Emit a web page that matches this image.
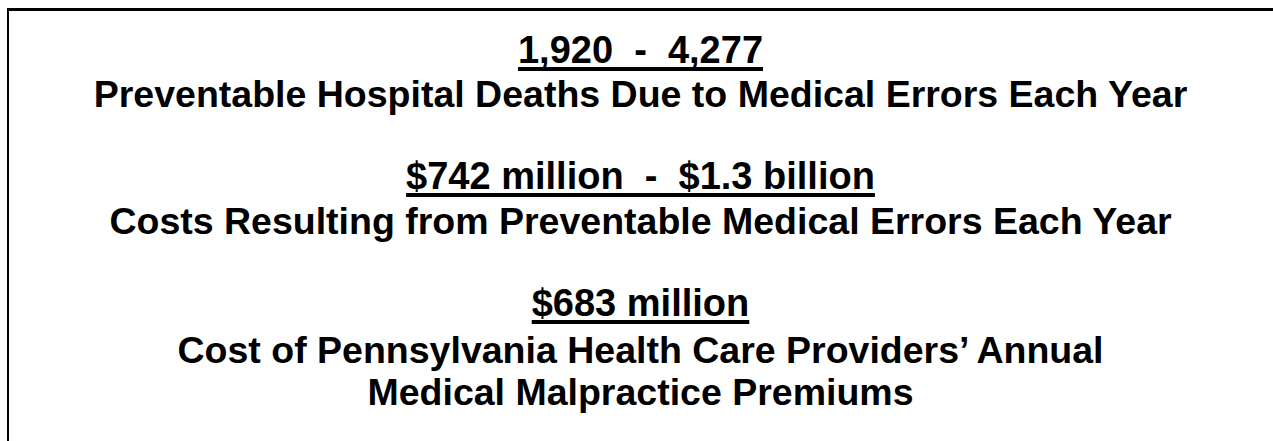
<!DOCTYPE html>
<html>
<head>
<meta charset="utf-8">
<script src="https://cdn.jsdelivr.net/npm/chart.js@4"></script>
<style>
  html, body { margin: 0; padding: 0; background: #fff; }
  body { width: 1273px; height: 441px; overflow: hidden; position: relative;
         font-family: "Liberation Sans", Arial, sans-serif; font-weight: bold; color: #000; }
  #frame { position: absolute; left: 7px; top: 8px; width: 1280px; height: 460px;
           border-top: 3px solid #000; border-left: 2px solid #000; }
  .line { position: absolute; left: 4px; width: 1273px; text-align: center;
          font-size: 37.5px; line-height: 37.5px; white-space: pre; }
  .fig { font-size: 38px; line-height: 38px; }
  .fig span { text-decoration: underline; text-decoration-thickness: 4px; text-underline-offset: 4px;
              text-decoration-skip-ink: none; }
</style>
</head>
<body>
<div id="frame"></div>
<div id="content"></div>
<script>
// Các con số nổi bật (gạch chân)
const figures = ['1,920  -  4,277', '$742 million  -  $1.3 billion', '$683 million'];
// Chú thích bên dưới mỗi con số
const captions = [
    ['Preventable Hospital Deaths Due to Medical Errors Each Year'],
    ['Costs Resulting from Preventable Medical Errors Each Year'],
    ['Cost of Pennsylvania Health Care Providers\u2019 Annual', 'Medical Malpractice Premiums']
];

// Baseline của từng dòng (px)
const figureBaselines = [63, 189, 316];
const captionBaselines = [[108], [235], [364, 406]];

// khoảng cách từ đỉnh hộp đến baseline, theo metric của Liberation Sans
function ascentOffset(size) {
    return (size - 1.117 * size) / 2 + 0.905 * size;
}

const content = document.getElementById('content');
figures.forEach((fig, i) => {
    const f = document.createElement('div');
    f.className = 'line fig';
    f.style.top = (figureBaselines[i] - ascentOffset(38)) + 'px';
    const s = document.createElement('span');
    s.textContent = fig;
    f.appendChild(s);
    content.appendChild(f);

    captions[i].forEach((cap, j) => {
        const c = document.createElement('div');
        c.className = 'line';
        c.style.top = (captionBaselines[i][j] - ascentOffset(37.5)) + 'px';
        c.textContent = cap;
        content.appendChild(c);
    });
});
</script>
</body>
</html>
